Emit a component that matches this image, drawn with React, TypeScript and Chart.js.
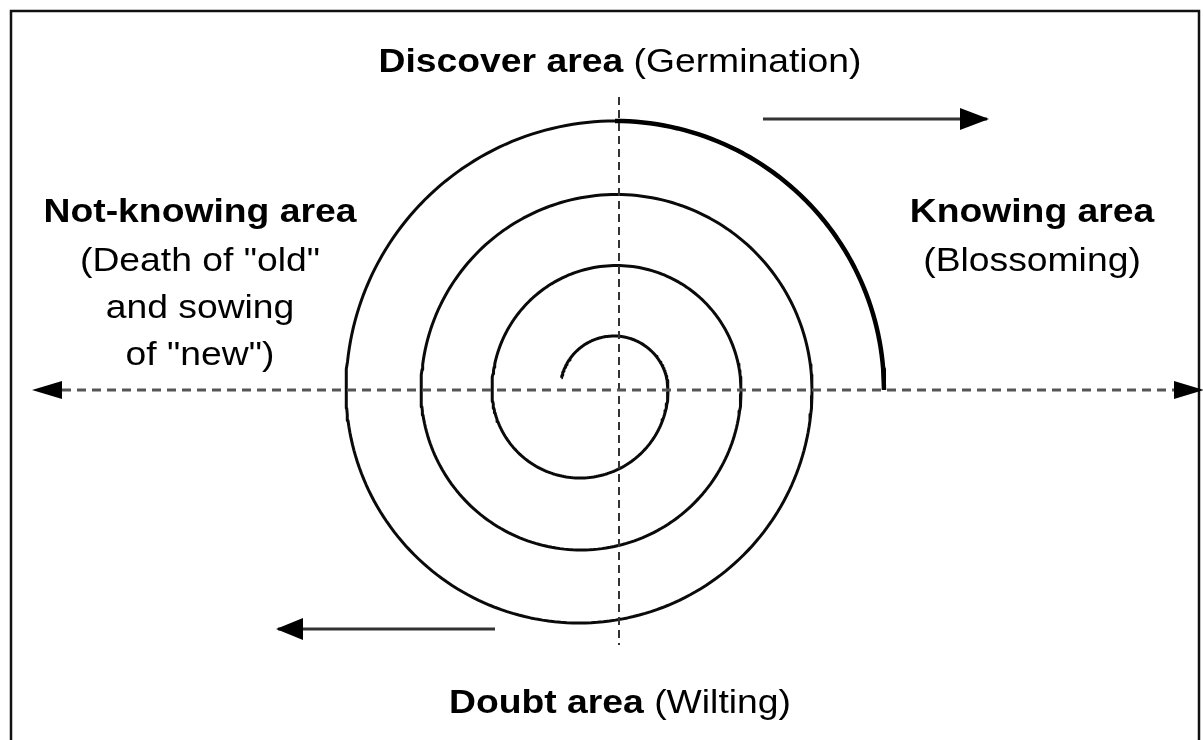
import React, { useEffect, useRef } from "react";
import { Chart, registerables } from "chart.js";

Chart.register(...registerables);

// Diagram coordinates: origin at the crossing of the two dashed axes, y up.
// Spiral built from half-circle arcs: centre x on the horizontal axis, radius, start/end angle (deg).
const arcCentreX = [-5, -39, -2.5, -38, -2.5, -40, -4];
const arcRadius = [54, 88, 124.5, 160, 195.5, 233, 269];
const arcStartDeg = [167, 0, 180, 0, 180, 0, 180];
const arcEndDeg = [0, -180, 0, -180, 0, -180, 90];
// final (heavier) quarter of the outer turn
const outerArc = { cx: -4, r: 269, start: 90, end: 0 };

// dashed axes (line ends; arrow heads extend beyond)
const hAxisX = [-557, 555];
const vAxisY = [293, -255];
// direction arrows (start, tip)
const topArrowX = [144, 368];
const topArrowY = 271;
const bottomArrowX = [-124, -341];
const bottomArrowY = -239;

// labels: [text runs (bold flag), centre x, baseline y]
const labelLines = [
  { runs: [["Discover area", true], [" (Germination)", false]], x: 1, y: 318 },
  { runs: [["Not-knowing area", true]], x: -419, y: 168 },
  { runs: [["(Death of \"old\"", false]], x: -419, y: 119 },
  { runs: [["and sowing", false]], x: -419, y: 72 },
  { runs: [["of \"new\")", false]], x: -419, y: 25 },
  { runs: [["Knowing area", true]], x: 413, y: 168 },
  { runs: [["(Blossoming)", false]], x: 413, y: 119 },
  { runs: [["Doubt area", true], [" (Wilting)", false]], x: 1, y: -323 },
];

const FONT_SIZE = 33;
const H_SCALE = 1.13;

function arcPoints(cx: number, r: number, a0: number, a1: number) {
  const pts: { x: number; y: number }[] = [];
  const n = Math.max(2, Math.ceil(Math.abs(a1 - a0) / 1.5));
  for (let i = 0; i <= n; i++) {
    const a = ((a0 + ((a1 - a0) * i) / n) * Math.PI) / 180;
    pts.push({ x: cx + r * Math.cos(a), y: r * Math.sin(a) });
  }
  return pts;
}

function buildSpiral() {
  let pts: { x: number; y: number }[] = [];
  for (let i = 0; i < arcRadius.length; i++) {
    const p = arcPoints(arcCentreX[i], arcRadius[i], arcStartDeg[i], arcEndDeg[i]);
    pts = pts.concat(i === 0 ? p : p.slice(1));
  }
  return pts;
}

const framePlugin = {
  id: "frame",
  beforeDraw(chart: any) {
    const ctx = chart.ctx;
    ctx.save();
    ctx.fillStyle = "#ffffff";
    ctx.fillRect(0, 0, chart.width, chart.height);
    ctx.strokeStyle = "#111";
    ctx.lineWidth = 2.5;
    ctx.beginPath();
    ctx.moveTo(11, chart.height + 2);
    ctx.lineTo(11, 11);
    ctx.lineTo(chart.width - 4, 11);
    ctx.lineTo(chart.width - 4, chart.height + 2);
    ctx.stroke();
    ctx.restore();
  },
};

// mode "beyond": head extends past the line end; "tip": the line end is the tip
const arrowPlugin = {
  id: "arrowHeads",
  afterDatasetsDraw(chart: any) {
    const ctx = chart.ctx;
    chart.data.datasets.forEach((ds: any, i: number) => {
      if (!ds.arrowEnds) return;
      const meta = chart.getDatasetMeta(i);
      const pts = meta.data;
      const ends: [any, any][] = [];
      if (ds.arrowEnds.includes("end")) ends.push([pts[pts.length - 1], pts[pts.length - 2]]);
      if (ds.arrowEnds.includes("start")) ends.push([pts[0], pts[1]]);
      ends.forEach(([endPt, prev]) => {
        const dx = endPt.x - prev.x;
        const dy = endPt.y - prev.y;
        const len = Math.hypot(dx, dy) || 1;
        const ux = dx / len;
        const uy = dy / len;
        const L = ds.headLength;
        const W = ds.headHalfWidth;
        let bx: number, by: number, tx: number, ty: number;
        if (ds.headMode === "tip") {
          // small overshoot so the shaft's square end is hidden inside the head
          tx = endPt.x + ux * 2;
          ty = endPt.y + uy * 2;
          bx = tx - ux * L;
          by = ty - uy * L;
        } else {
          bx = endPt.x;
          by = endPt.y;
          tx = bx + ux * L;
          ty = by + uy * L;
        }
        ctx.save();
        ctx.fillStyle = "#000";
        ctx.beginPath();
        ctx.moveTo(tx, ty);
        ctx.lineTo(bx - uy * W, by + ux * W);
        ctx.lineTo(bx + uy * W, by - ux * W);
        ctx.closePath();
        ctx.fill();
        ctx.restore();
      });
    });
  },
};

const labelPlugin = {
  id: "labels",
  afterDraw(chart: any) {
    const ctx = chart.ctx;
    const xs = chart.scales.x;
    const ys = chart.scales.y;
    ctx.save();
    ctx.fillStyle = "#000";
    ctx.textBaseline = "alphabetic";
    ctx.textAlign = "left";
    labelLines.forEach((ln: any) => {
      const px = xs.getPixelForValue(ln.x);
      const py = ys.getPixelForValue(ln.y);
      const fonts = ln.runs.map(
        (r: any) => `${r[1] ? "bold " : ""}${FONT_SIZE}px "Liberation Sans", Arial, sans-serif`
      );
      let total = 0;
      const widths = ln.runs.map((r: any, k: number) => {
        ctx.font = fonts[k];
        const w = ctx.measureText(r[0]).width;
        total += w;
        return w;
      });
      ctx.save();
      ctx.translate(px, py);
      ctx.scale(H_SCALE, 1);
      let cur = -total / 2;
      ln.runs.forEach((r: any, k: number) => {
        ctx.font = fonts[k];
        ctx.fillText(r[0], cur, 0);
        cur += widths[k];
      });
      ctx.restore();
    });
    ctx.restore();
  },
};

export default function App() {
  const ref = useRef<HTMLCanvasElement | null>(null);
  useEffect(() => {
    if (!ref.current) return;
    const line = (data: any[], extra: any) => ({
      data,
      showLine: true,
      pointRadius: 0,
      pointHoverRadius: 0,
      fill: false,
      tension: 0,
      borderCapStyle: "butt",
      borderJoinStyle: "round",
      ...extra,
    });
    const chart = new Chart(ref.current, {
      type: "scatter",
      data: {
        datasets: [
          line(
            [{ x: hAxisX[0], y: 0 }, { x: hAxisX[1], y: 0 }],
            { borderColor: "#555", borderWidth: 3, borderDash: [9, 6], arrowEnds: ["start", "end"], headMode: "beyond", headLength: 30, headHalfWidth: 9 }
          ),
          line(
            [{ x: 0, y: vAxisY[0] }, { x: 0, y: vAxisY[1] }],
            { borderColor: "#333", borderWidth: 2, borderDash: [8, 5] }
          ),
          line(buildSpiral(), { borderColor: "#0a0a0a", borderWidth: 3 }),
          line(arcPoints(outerArc.cx, outerArc.r, outerArc.start, outerArc.end), {
            borderColor: "#000",
            borderWidth: 4.5,
          }),
          line(
            [{ x: topArrowX[0], y: topArrowY }, { x: topArrowX[1], y: topArrowY }],
            { borderColor: "#333", borderWidth: 2.8, arrowEnds: ["end"], headMode: "tip", headLength: 29, headHalfWidth: 11 }
          ),
          line(
            [{ x: bottomArrowX[0], y: bottomArrowY }, { x: bottomArrowX[1], y: bottomArrowY }],
            { borderColor: "#333", borderWidth: 2.8, arrowEnds: ["end"], headMode: "tip", headLength: 27, headHalfWidth: 11 }
          ),
        ],
      },
      options: {
        responsive: false,
        animation: false,
        events: [],
        layout: { padding: 0 },
        plugins: { legend: { display: false }, tooltip: { enabled: false } },
        scales: {
          x: { type: "linear", min: -619, max: 584, display: false },
          y: { type: "linear", min: -350, max: 390, display: false },
        },
      },
      plugins: [framePlugin, arrowPlugin, labelPlugin],
    } as any);
    return () => chart.destroy();
  }, []);
  return (
    <div style={{ position: "fixed", left: 0, top: 0, width: 1203, height: 740, background: "#fff" }}>
      <canvas ref={ref} width={1203} height={740} style={{ display: "block", width: 1203, height: 740 }} />
    </div>
  );
}
